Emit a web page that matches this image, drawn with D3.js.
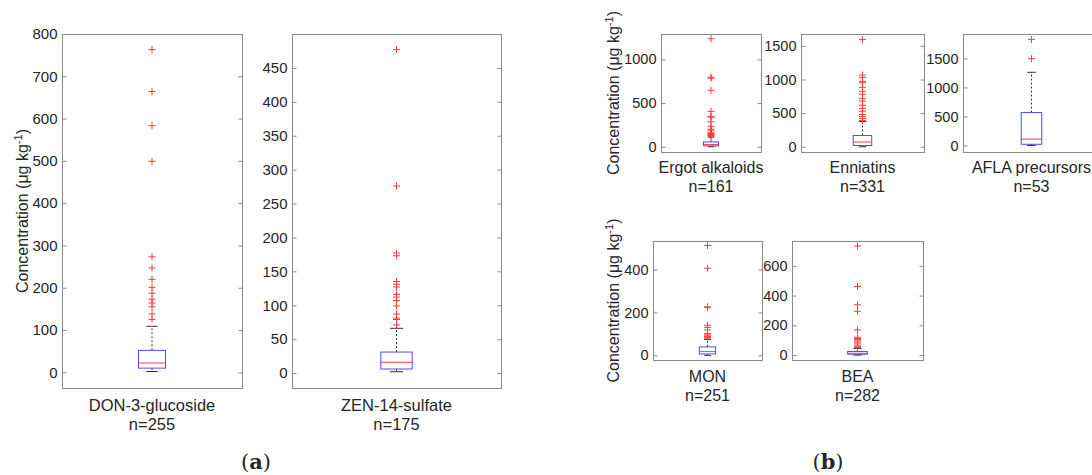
<!DOCTYPE html>
<html><head><meta charset="utf-8">
<script src="https://cdn.jsdelivr.net/npm/d3@7"></script>
<style>
body{margin:0;background:#fff}
svg{display:block}
text{font-family:"Liberation Sans",Arial,Helvetica,sans-serif;fill:#262626}
</style>
</head><body>
<svg id="c" width="1092" height="475"></svg>
<script>
// ---------- data ----------
const categories = ["DON-3-glucoside","ZEN-14-sulfate","Ergot alkaloids","Enniatins","AFLA precursors","MON","BEA"];
const sampleCounts = [255,175,161,331,53,251,282];
const q1Values = [10,6,10,19,20,6,6];
const medianValues = [22,16,25,70,110,17,12];
const q3Values = [52,31,55,167,567,39,24];
const whiskerLow = [2,2,0,0,0,0,0];
const whiskerHigh = [109,66,110,374,1261,74,45];
const outliersDON = [763,664,583,499,273,247,220,201,187,173,164,155,138,125];
const outliersZEN = [477,276,177,173,135,131,127,116,112,107,99,87,81,79,71];
const outliersErgot = [1236,795,785,646,405,345,340,285,235,200,190,165,150,140,130,120];
const outliersEnniatins = [1593,1065,1031,972,951,883,824,780,714,680,617,567,528,478,448,419,389];
const outliersAFLA = [1828,1495];
const outliersMON = [512,406,226,222,140,130,118,102,95,90,87,84,80];
const outliersBEA = [733,461,338,294,169,120,112,105,95,87,75,62,55,50];
const outlierSets = [outliersDON,outliersZEN,outliersErgot,outliersEnniatins,outliersAFLA,outliersMON,outliersBEA];
const yDomains = [[-37,800],[-22,500],[-60,1290],[-78,1676],[-113,1921],[-22,533],[-33,767]];
const yTickValues = [
  [0,100,200,300,400,500,600,700,800],
  [0,50,100,150,200,250,300,350,400,450],
  [0,500,1000],
  [0,500,1000,1500],
  [0,500,1000,1500],
  [0,200,400],
  [0,200,400,600]
];
const panelLetters = ["a","b"];

// ---------- layout ----------
const layout = [
  {x0:62,  x1:242,  y0:34,  y1:388, ylabel:true,  lx:27.5, tickFont:15, labFont:16.5, catY:411},
  {x0:292, x1:501,  y0:34,  y1:388, ylabel:false, tickFont:15, labFont:16.5, catY:411},
  {x0:661, x1:761,  y0:34,  y1:152, ylabel:true,  lx:619, tickFont:14.5, labFont:16, catY:173},
  {x0:801, x1:924,  y0:34,  y1:152, ylabel:false, tickFont:14.5, labFont:16, catY:173},
  {x0:963, x1:1100, y0:34,  y1:152, ylabel:false, tickFont:14.5, labFont:16, catY:173},
  {x0:653, x1:762,  y0:241, y1:360, ylabel:true,  lx:619, tickFont:14.5, labFont:16, catY:382},
  {x0:792, x1:923,  y0:241, y1:360, ylabel:false, tickFont:14.5, labFont:16, catY:382}
];

const svg = d3.select("#c");
const axisColor = "#8a8a8a";
const boxColor = "#4a4aff";
const redColor = "#ff3b3b";

categories.forEach((cat,i)=>{
  const L = layout[i];
  const g = svg.append("g");
  const x = d3.scaleBand().domain([cat]).range([L.x0,L.x1]).paddingInner(0.85).paddingOuter(0.425);
  const y = d3.scaleLinear().domain(yDomains[i]).range([L.y1,L.y0]);
  const cx = x(cat) + x.bandwidth()/2;
  const bw = x.bandwidth();
  const cap = bw*0.42;

  g.append("rect").attr("x",L.x0+0.5).attr("y",L.y0+0.5)
    .attr("width",L.x1-L.x0).attr("height",L.y1-L.y0)
    .attr("fill","none").attr("stroke",axisColor).attr("stroke-width",1);

  const ax = g.append("g").attr("transform",`translate(${L.x0+0.5},0)`)
    .call(d3.axisLeft(y).tickValues(yTickValues[i]).tickFormat(d3.format("d")).tickSize(-4).tickPadding(5));
  ax.select(".domain").remove();
  ax.selectAll("line").attr("stroke",axisColor);
  ax.selectAll("text").attr("fill","#262626").style("font-size",L.tickFont+"px")
    .style("font-family","'Liberation Sans',Arial,sans-serif");
  const axr = g.append("g").attr("transform",`translate(${L.x1+0.5},0)`)
    .call(d3.axisRight(y).tickValues(yTickValues[i]).tickSize(-4).tickFormat(""));
  axr.select(".domain").remove();
  axr.selectAll("line").attr("stroke",axisColor);

  g.append("line").attr("x1",cx).attr("x2",cx).attr("y1",y(q3Values[i])).attr("y2",y(whiskerHigh[i]))
    .attr("stroke","#333").attr("stroke-dasharray","2,2");
  g.append("line").attr("x1",cx).attr("x2",cx).attr("y1",y(q1Values[i])).attr("y2",y(whiskerLow[i]))
    .attr("stroke","#333").attr("stroke-dasharray","2,2");
  [whiskerHigh[i],whiskerLow[i]].forEach(v=>{
    g.append("line").attr("x1",cx-cap/2).attr("x2",cx+cap/2).attr("y1",y(v)).attr("y2",y(v))
      .attr("stroke","#333");
  });
  g.append("rect").attr("x",cx-bw/2).attr("y",y(q3Values[i]))
    .attr("width",bw).attr("height",Math.max(1,y(q1Values[i])-y(q3Values[i])))
    .attr("fill","none").attr("stroke",boxColor);
  g.append("line").attr("x1",cx-bw/2).attr("x2",cx+bw/2)
    .attr("y1",y(medianValues[i])).attr("y2",y(medianValues[i])).attr("stroke",redColor);
  g.selectAll("path.o").data(outlierSets[i]).join("path").attr("class","o")
    .attr("transform",d=>`translate(${cx},${y(d)})`)
    .attr("d","M-3.5,0H3.5M0,-3.5V3.5").attr("stroke",redColor).attr("fill","none");

  const t = g.append("text").attr("text-anchor","middle").style("font-size",L.labFont+"px");
  t.append("tspan").attr("x",cx).attr("y",L.catY).text(cat);
  t.append("tspan").attr("x",cx).attr("y",L.catY+19).text("n="+sampleCounts[i]);

  if(L.ylabel){
    const cy = (L.y0+L.y1)/2;
    const yl = g.append("text").attr("text-anchor","middle")
      .attr("transform",`translate(${L.lx},${cy}) rotate(-90)`).style("font-size","16px");
    yl.append("tspan").text("Concentration (\u03BCg kg");
    yl.append("tspan").attr("dy",-6).style("font-size","11px").text("-1");
    yl.append("tspan").attr("dy",6).text(")");
  }
});

[[256,"a"],[828,"b"]].forEach(([xx,l],k)=>{
  const t = svg.append("text").attr("x",xx).attr("y",469).attr("text-anchor","middle")
    .style("font-family","'DejaVu Serif','Liberation Serif',serif").style("font-size","21px").attr("fill","#000");
  t.append("tspan").text("(");
  t.append("tspan").style("font-weight","bold").text(panelLetters[k]);
  t.append("tspan").text(")");
});
</script>
</body></html>
